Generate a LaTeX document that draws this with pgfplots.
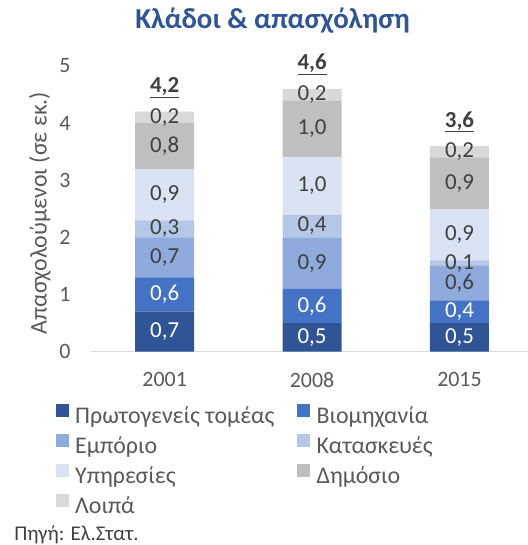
\documentclass[border=0pt]{standalone}
\usepackage{pgfplots}
\pgfplotsset{compat=1.18}
\usepackage{fontspec}
\setmainfont{Carlito}
\definecolor{c1}{HTML}{2F5597}
\definecolor{c2}{HTML}{4472C4}
\definecolor{c3}{HTML}{8FAADC}
\definecolor{c4}{HTML}{B4C7E7}
\definecolor{c5}{HTML}{DAE3F3}
\definecolor{c6}{HTML}{BFBFBF}
\definecolor{c7}{HTML}{D9D9D9}
\definecolor{titleblue}{HTML}{2F5597}
\definecolor{txt}{HTML}{595959}
\definecolor{lbl}{HTML}{404040}
\newcommand{\fs}{\fontsize{22}{26}\selectfont}
\newcommand{\fd}{\fontsize{23}{27}\selectfont}
\newcommand{\fl}{\fontsize{24}{28}\selectfont}
\pgfplotsset{
  seg/.style 2 args={fill=#1, draw=none,
    nodes near coords={\pgfmathprintnumber[fixed,fixed zerofill,precision=1,use comma]{\pgfplotspointmeta}},
    every node near coord/.style={anchor=center, text=#2, font=\fd}},
}
\begin{document}
\begin{tikzpicture}
\path[use as bounding box] (-91bp,-193.3bp) rectangle (437bp,351.7bp);
\begin{axis}[
  scale only axis, width=437bp, height=285.7bp,
  ybar stacked, bar width=59bp,
  xmin=-0.5, xmax=2.465, ymin=0, ymax=5,
  xtick={0,1,2}, xticklabels={2001,2008,2015},
  ytick={0,1,2,3,4,5},
  axis x line=bottom, axis y line=left,
  x axis line style={draw=c7, line width=1pt, -}, y axis line style={draw=none},
  major tick length=0pt,
  tick label style={font=\fs, text=txt},
  /pgf/number format/assume math mode=true,
  yticklabel style={xshift=-17bp},
  xticklabel style={yshift=-17bp},
  ylabel={Απασχολούμενοι (σε εκ.)},
  ylabel style={at={(axis description cs:-0.1167,0.4855)}, anchor=center, font=\fl, text=txt},
  legend columns=2,
  legend style={at={(axis description cs:-0.0812,-0.1831)}, anchor=north west, draw=none, fill=none,
    inner sep=0pt, font=\fl, text=txt, cells={anchor=west},
    nodes={inner xsep=3.5bp, inner ysep=0pt, text height=17bp, text depth=6bp},
    /tikz/every odd column/.append style={column sep=3bp},
    /tikz/every even column/.append style={column sep=19bp}, row sep=4.4bp},
  legend image code/.code={\fill[#1] (0bp,1bp) rectangle (13bp,14bp);},
  clip=false,
]
\addplot[seg={c1}{white}] coordinates {(0,0.7) (1,0.5) (2,0.5)};
\addplot[seg={c2}{white}] coordinates {(0,0.6) (1,0.6) (2,0.4)};
\addplot[seg={c3}{lbl}] coordinates {(0,0.7) (1,0.9) (2,0.6)};
\addplot[seg={c4}{lbl}] coordinates {(0,0.3) (1,0.4) (2,0.1)};
\addplot[seg={c5}{lbl}] coordinates {(0,0.9) (1,1.0) (2,0.9)};
\addplot[seg={c6}{lbl}] coordinates {(0,0.8) (1,1.0) (2,0.9)};
\addplot[seg={c7}{lbl}] coordinates {(0,0.2) (1,0.2) (2,0.2)};
\addplot[stack plots=false, fill=none, draw=none, forget plot,
  visualization depends on={0.5*rawy \as \halfy},
  nodes near coords={\underline{\pgfmathprintnumber[fixed,fixed zerofill,precision=1,use comma]{\pgfplotspointmeta}}},
  every node near coord/.style={anchor=base, shift={(axis direction cs:0,\halfy)}, yshift=19bp, text=lbl, font=\bfseries\fd}]
  coordinates {(0,4.2) (1,4.6) (2,3.6)};
\legend{Πρωτογενείς τομέας, Βιομηχανία, Εμπόριο, Κατασκευές, Υπηρεσίες, Δημόσιο, Λοιπά}
\node[anchor=base, font=\bfseries\fontsize{29}{34}\selectfont, text=titleblue] at (axis description cs:0.4153,1.133) {Κλάδοι \& απασχόληση};
\node[anchor=west, font=\fontsize{21}{25}\selectfont, text=lbl, inner sep=0pt] at (axis description cs:-0.176,-0.640) {Πηγή: Ελ.Στατ.};
\end{axis}
\end{tikzpicture}
\end{document}
